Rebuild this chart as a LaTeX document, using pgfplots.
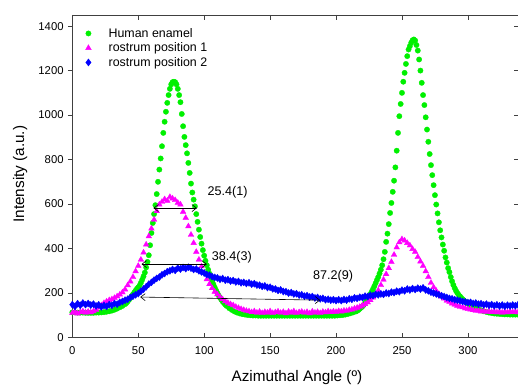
\documentclass[border=0pt]{standalone}
\usepackage{fontspec}
\setmainfont{Liberation Sans}
\usepackage{pgfplots}
\pgfplotsset{compat=1.18}
\usetikzlibrary{arrows.meta}
\definecolor{cgreen}{RGB}{0,240,0}
\definecolor{cmag}{RGB}{255,0,255}
\definecolor{cblue}{RGB}{0,0,255}
\tikzset{fwhm/.style={line width=0.6pt, black, solid, >={Straight Barb[length=4.5pt,width=7pt]}, <->}}
\begin{document}
\begin{tikzpicture}
\begin{axis}[
  set layers,
  scale only axis, width=445.5pt, height=322.4pt,
  xmin=0, xmax=338, ymin=0, ymax=1450,
  xtick={0,50,...,300}, ytick={0,200,...,1400},
  tick align=inside,
  ytick pos=right, yticklabel pos=left,
  extra y ticks={0,200,...,1400}, extra y tick labels={},
  extra y tick style={tick align=outside, ytick pos=left},
  /pgf/number format/assume math mode=true,
  /pgf/number format/set thousands separator={},
  ticklabel style={font=\fontsize{11.3}{13}\selectfont},
  xticklabel style={yshift=-6pt},
  yticklabel style={xshift=-5.2pt},
  axis line style={black!75, line width=0.6pt},
  every tick/.style={black!75, line width=0.6pt},
  major tick length=4.5pt,
  xlabel={Azimuthal Angle (º)},
  ylabel={Intensity (a.u.)},
  label style={font=\fontsize{15.3}{18}\selectfont},
  xlabel style={at={(axis description cs:0.504,-0.1355)}, anchor=base},
  ylabel style={at={(axis description cs:-0.1084,0.5065)}, anchor=base, rotate=0},
  legend cell align=left,
  legend style={at={(rel axis cs:0,1)}, anchor=north west, xshift=7.7pt, yshift=-11.8pt,
    draw=none, fill=none, inner sep=0pt, row sep=0pt, column sep=0pt,
    font=\fontsize{12.4}{14}\selectfont,
    nodes={inner xsep=3pt, inner ysep=1.5pt, text height=8.9pt, text depth=2.6pt}},
  legend image code/.code={\draw[#1] plot coordinates {(8pt,0.8pt)}; \path (0pt,0pt) (25pt,0pt);},
]
\addplot[only marks, mark=*, mark size=2.7pt, mark options={draw=cgreen, fill=cgreen, line width=0.3pt, solid}] coordinates {
(0,113)(2,113)(4,112)(6,112)(8,112)(10,111)(12,111)(14,111)(16,111)(18,112)(20,112)(22,113)(24,114)(26,116)(28,118)(30,121)(32,125)(34,130)(36,136)(38,142)
(40,150)(41,155)(42,162)(43,170)(44,178)(45,186)(46,194)(47,203)(48,211)(49,219)(50,226)(51,234)(52,246)(53,260)(54,275)(55,292)(56,315)(57,340)(58,370)(59,415)(60,470)(61,515)(62,555)(63,595)(64,645)(65,700)(66,755)(67,805)(68,860)(69,920)(70,970)(71,1015)(72,1055)(73,1090)(74,1118)(75,1138)(76,1148)(77,1150)(78,1148)(79,1138)(80,1118)(81,1090)(82,1058)(83,1005)(84,950)(85,902)(86,865)(87,828)(88,785)(89,740)(90,692)(91,652)(92,620)(93,590)(94,555)(95,520)(96,485)(97,452)(98,422)(99,393)(100,368)(101,345)(102,325)(103,305)(104,287)(105,270)(106,254)(107,239)(108,225)(109,212)(110,200)(111,189)(112,179)(113,170)(114,162)(115,155)(116,148)(117,142)
(119,132)(121,124)(123,117)(125,112)(127,108)(129,105)(131,103)(133,101)(135,100)(137,99)(139,99)(141,98)(143,98)(145,98)(147,98)(149,98)(151,98)(153,98)(155,98)(157,98)(159,98)(161,98)(163,98)(165,98)(167,98)(169,98)(171,98)(173,98)(175,98)(177,98)(179,98)(181,98)(183,98)(185,98)(187,98)(189,98)(191,98)(193,98)(195,98)(197,98)(199,98)(201,99)(203,100)(205,101)(207,103)(209,106)(211,109)(213,113)
(215,117)(216,120)(217,124)(218,129)(219,134)(220,140)(221,147)(222,156)(223,166)(224,176)(225,185)(226,195)(227,206)(228,217)(229,230)(230,244)(231,258)(232,272)(233,288)(234,305)(235,325)(236,352)(237,385)(238,430)(239,467)(240,510)(241,560)(242,605)(243,655)(244,705)(245,765)(246,840)(247,920)(248,995)(249,1050)(250,1100)(251,1150)(252,1190)(253,1230)(254,1265)(255,1295)(256,1310)(257,1325)(258,1336)(259,1340)(260,1335)(261,1315)(262,1290)(263,1250)(264,1200)(265,1145)(266,1090)(267,1045)(268,990)(269,935)(270,880)(271,825)(272,775)(273,730)(274,685)(275,640)(276,598)(277,558)(278,518)(279,482)(280,450)(281,418)(282,390)(283,360)(284,337)(285,312)(286,294)(287,272)(288,253)(289,236)(290,222)(291,210)(292,200)(293,192)(294,185)(295,178)(296,172)(297,166)(298,161)(299,156)(300,152)
(302,144)(304,138)(306,132)(308,127)(310,122)(312,118)(314,115)(316,112)(318,110)(320,108)(322,107)(324,106)(326,105)(328,104)(330,104)(332,103)(334,103)(336,103)(338,103)
};
\addlegendentry{Human enamel}
\addplot[only marks, mark=triangle*, mark size=3.3pt, mark options={draw=cmag, fill=cmag, line width=0.3pt, solid}] coordinates {
(0,110)(2,116)(4,108)(6,114)(8,118)(10,112)(12,116)(14,113)(16,118)(18,125)(20,135)(22,145)(24,155)(26,162)(28,168)(30,172)(32,178)(34,185)(36,193)(38,203)(40,216)(42,235)(44,252)(46,272)(48,298)(50,322)(52,350)(54,382)(56,418)(58,455)(60,490)(62,530)(64,568)(66,598)(68,610)(70,622)(72,615)(74,632)(76,625)(78,618)(80,606)(82,598)(84,565)(86,538)(88,500)(90,462)(92,425)(94,385)(96,350)(98,320)(100,290)(102,262)(104,240)(106,222)(108,206)(110,194)(112,182)(114,172)(116,163)(118,156)(120,150)(122,145)(124,138)(126,133)(128,128)(130,124)(132,120)(134,118)(136,114)(138,118)(140,112)(142,116)(144,110)(146,115)(148,112)(150,118)(152,110)(154,114)(156,117)(158,111)(160,115)(162,109)(164,116)(166,112)(168,118)(170,110)(172,114)(174,116)(176,111)(178,115)(180,109)(182,117)(184,112)(186,115)(188,110)(190,116)(192,113)(194,118)(196,114)(198,117)(200,115)(202,119)(204,117)(206,121)(208,120)(210,124)(212,126)(214,130)(216,134)(218,138)(220,144)(222,150)(224,158)(226,168)(228,180)(230,194)(232,212)(234,236)(236,260)(238,285)(240,312)(242,340)(244,372)(246,405)(248,428)(250,442)(252,436)(254,425)(256,414)(258,398)(260,385)(262,362)(264,342)(266,322)(268,298)(270,272)(272,246)(274,226)(276,210)(278,196)(280,184)(282,175)(284,166)(286,160)(288,153)(290,148)(292,143)(294,138)(296,136)(298,131)(300,128)(302,126)(304,123)(306,120)(308,121)(310,117)(312,119)(314,115)(316,118)(318,114)(320,117)(322,113)(324,116)(326,112)(328,116)(330,113)(332,117)(334,114)(336,116)(338,113)
};
\addlegendentry{rostrum position 1}
\addplot[only marks, mark=diamond*, mark size=3.6pt, mark options={draw=cblue, fill=cblue, line width=0.3pt, solid}] coordinates {
(0,148)(2,140)(4,152)(6,145)(8,155)(10,148)(12,153)(14,146)(16,150)(18,142)(20,147)(22,138)(24,144)(26,140)(28,148)(30,145)(32,153)(34,150)(36,158)(38,162)(40,168)(42,172)(44,180)(46,186)(48,192)(50,198)(52,208)(54,218)(56,228)(58,240)(60,248)(62,258)(64,266)(66,272)(68,282)(70,288)(72,296)(74,300)(76,306)(78,302)(80,312)(82,308)(84,315)(86,310)(88,316)(90,312)(92,306)(94,308)(96,300)(98,295)(100,290)(102,283)(104,280)(106,274)(108,270)(110,268)(112,262)(114,265)(116,258)(118,260)(120,254)(122,256)(124,250)(126,252)(128,246)(130,248)(132,243)(134,246)(136,240)(138,242)(140,236)(142,235)(144,230)(146,232)(148,225)(150,226)(152,219)(154,218)(156,212)(158,214)(160,207)(162,206)(164,200)(166,202)(168,196)(170,197)(172,191)(174,192)(176,186)(178,188)(180,182)(182,184)(184,178)(186,180)(188,174)(190,176)(192,170)(194,172)(196,168)(198,170)(200,166)(202,170)(204,166)(206,171)(208,168)(210,174)(212,172)(214,178)(216,176)(218,181)(220,180)(222,186)(224,184)(226,190)(228,188)(230,194)(232,192)(234,196)(236,194)(238,200)(240,198)(242,204)(244,202)(246,208)(248,206)(250,213)(252,210)(254,218)(256,214)(258,220)(260,216)(262,222)(264,218)(266,223)(268,214)(270,210)(272,204)(274,200)(276,196)(278,192)(280,188)(282,184)(284,180)(286,176)(288,174)(290,170)(292,168)(294,165)(296,162)(298,160)(300,157)(302,158)(304,153)(306,155)(308,150)(310,152)(312,147)(314,150)(316,145)(318,148)(320,143)(322,147)(324,142)(326,146)(328,141)(330,145)(332,142)(334,146)(336,143)(338,147)
};
\addlegendentry{rostrum position 2}
\begin{pgfonlayer}{axis foreground}
\draw[fwhm] (axis cs:61.5,582) -- (axis cs:94.5,582);
\draw[fwhm] (axis cs:52.5,330) -- (axis cs:102,330);
\draw[fwhm] (axis cs:51.5,182) -- (axis cs:188,168);
\end{pgfonlayer}
\node[font=\fontsize{12.6}{15}\selectfont, inner sep=0pt] at (axis cs:117.7,651) {25.4(1)};
\node[font=\fontsize{12.6}{15}\selectfont, inner sep=0pt] at (axis cs:121,363) {38.4(3)};
\node[font=\fontsize{12.6}{15}\selectfont, inner sep=0pt] at (axis cs:197.7,275) {87.2(9)};
\coordinate (bl) at ([shift={(-72.3pt,-49.7pt)}]rel axis cs:0,0);
\coordinate (tr) at ([shift={(0pt,15pt)}]rel axis cs:1,1);
\end{axis}
\pgfresetboundingbox
\useasboundingbox (bl) rectangle (tr);
\end{tikzpicture}
\end{document}
